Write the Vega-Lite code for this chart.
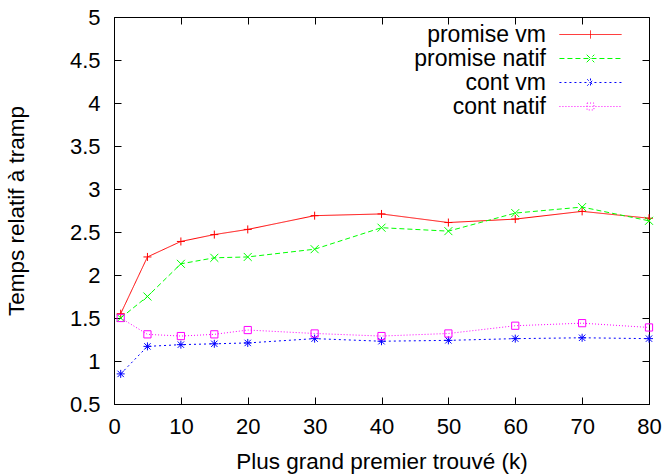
{
  "$schema": "https://vega.github.io/schema/vega-lite/v6.json",
  "width": 535,
  "height": 387,
  "autosize": "none",
  "padding": {"left": 114, "top": 17, "right": 19, "bottom": 71},
  "background": "white",
  "config": {
    "font": "Liberation Sans",
    "view": {"stroke": "black", "strokeWidth": 1},
    "axis": {
      "grid": false,
      "domainColor": "black",
      "tickColor": "black",
      "labelColor": "black",
      "titleColor": "black",
      "labelFontSize": 22,
      "titleFontSize": 22.5,
      "titleFontWeight": "normal",
      "labelFont": "Liberation Sans",
      "titleFont": "Liberation Sans",
      "tickSize": -7,
      "labelFlush": false,
      "labelOverlap": false
    }
  },
  "data": {
    "values": [
      {"k": 1, "serie": "promise vm", "t": 1.55},
      {"k": 5, "serie": "promise vm", "t": 2.21},
      {"k": 10, "serie": "promise vm", "t": 2.39},
      {"k": 15, "serie": "promise vm", "t": 2.47},
      {"k": 20, "serie": "promise vm", "t": 2.53},
      {"k": 30, "serie": "promise vm", "t": 2.69},
      {"k": 40, "serie": "promise vm", "t": 2.71},
      {"k": 50, "serie": "promise vm", "t": 2.61},
      {"k": 60, "serie": "promise vm", "t": 2.65},
      {"k": 70, "serie": "promise vm", "t": 2.74},
      {"k": 80, "serie": "promise vm", "t": 2.66},
      {"k": 1, "serie": "promise natif", "t": 1.50},
      {"k": 5, "serie": "promise natif", "t": 1.75},
      {"k": 10, "serie": "promise natif", "t": 2.13},
      {"k": 15, "serie": "promise natif", "t": 2.20},
      {"k": 20, "serie": "promise natif", "t": 2.21},
      {"k": 30, "serie": "promise natif", "t": 2.30},
      {"k": 40, "serie": "promise natif", "t": 2.55},
      {"k": 50, "serie": "promise natif", "t": 2.51},
      {"k": 60, "serie": "promise natif", "t": 2.72},
      {"k": 70, "serie": "promise natif", "t": 2.79},
      {"k": 80, "serie": "promise natif", "t": 2.63},
      {"k": 1, "serie": "cont vm", "t": 0.85},
      {"k": 5, "serie": "cont vm", "t": 1.17},
      {"k": 10, "serie": "cont vm", "t": 1.19},
      {"k": 15, "serie": "cont vm", "t": 1.20},
      {"k": 20, "serie": "cont vm", "t": 1.21},
      {"k": 30, "serie": "cont vm", "t": 1.26},
      {"k": 40, "serie": "cont vm", "t": 1.23},
      {"k": 50, "serie": "cont vm", "t": 1.24},
      {"k": 60, "serie": "cont vm", "t": 1.26},
      {"k": 70, "serie": "cont vm", "t": 1.27},
      {"k": 80, "serie": "cont vm", "t": 1.26},
      {"k": 1, "serie": "cont natif", "t": 1.50},
      {"k": 5, "serie": "cont natif", "t": 1.31},
      {"k": 10, "serie": "cont natif", "t": 1.29},
      {"k": 15, "serie": "cont natif", "t": 1.31},
      {"k": 20, "serie": "cont natif", "t": 1.36},
      {"k": 30, "serie": "cont natif", "t": 1.32},
      {"k": 40, "serie": "cont natif", "t": 1.29},
      {"k": 50, "serie": "cont natif", "t": 1.32},
      {"k": 60, "serie": "cont natif", "t": 1.41},
      {"k": 70, "serie": "cont natif", "t": 1.44},
      {"k": 80, "serie": "cont natif", "t": 1.39}
    ]
  },
  "layer": [
    {
      "mark": {"type": "line", "strokeWidth": 1},
      "encoding": {
        "x": {
          "field": "k", "type": "quantitative",
          "scale": {"domain": [0, 80], "nice": false, "zero": false},
          "axis": {
            "values": [0, 10, 20, 30, 40, 50, 60, 70, 80],
            "title": "Plus grand premier trouvé (k)",
            "labelPadding": 19,
            "titlePadding": 13
          }
        },
        "y": {
          "field": "t", "type": "quantitative",
          "scale": {"domain": [0.5, 5], "nice": false, "zero": false},
          "axis": {
            "values": [0.5, 1, 1.5, 2, 2.5, 3, 3.5, 4, 4.5, 5],
            "format": "~g",
            "title": "Temps relatif à tramp",
            "labelPadding": 21,
            "titlePadding": 41
          }
        },
        "color": {
          "field": "serie", "type": "nominal",
          "scale": {
            "domain": ["promise vm", "promise natif", "cont vm", "cont natif"],
            "range": ["#ff0000", "#00ff00", "#0000ff", "#ff00ff"]
          },
          "legend": {
            "orient": "none",
            "legendX": 464.5,
            "legendY": 5.5,
            "title": null,
            "padding": 0,
            "labelFontSize": 23,
            "labelFont": "Liberation Sans",
            "labelColor": "black",
            "labelAlign": "right",
            "labelOffset": -56.5,
            "labelLimit": 400,
            "symbolSize": 529,
            "symbolStrokeWidth": 1,
            "rowPadding": -4.6,
            "encode": {
              "symbols": {
                "update": {
                  "shape": {"signal": "datum.value == 'promise vm' ? 'M-2.7,0H2.7M0,-0.35V0.35' : datum.value == 'promise natif' ? 'M-2.7,0H2.7M-0.33,-0.33L0.33,0.33M-0.33,0.33L0.33,-0.33' : datum.value == 'cont vm' ? 'M-2.7,0H2.7M0,-0.35V0.35M-0.28,-0.28L0.28,0.28M-0.28,0.28L0.28,-0.28' : 'M-2.7,0H2.7M-0.3,-0.3H0.3V0.3H-0.3Z'"},
                  "fill": {"value": "transparent"}
                }
              }
            }
          }
        },
        "strokeDash": {
          "field": "serie", "type": "nominal",
          "scale": {
            "domain": ["promise vm", "promise natif", "cont vm", "cont natif"],
            "range": [[1, 0], [5, 3], [2, 3], [1, 2]]
          }
        }
      }
    },
    {
      "transform": [{"filter": "datum.serie == 'promise vm'"}],
      "mark": {"type": "point", "filled": false, "strokeWidth": 1, "size": 64, "opacity": 1, "shape": "M-1,0H1M0,-1V1"},
      "encoding": {
        "x": {
          "field": "k", "type": "quantitative",
          "axis": {
            "orient": "top",
            "values": [0, 10, 20, 30, 40, 50, 60, 70, 80],
            "labels": false,
            "domain": false,
            "title": null
          }
        },
        "y": {
          "field": "t", "type": "quantitative",
          "axis": {
            "orient": "right",
            "values": [0.5, 1, 1.5, 2, 2.5, 3, 3.5, 4, 4.5, 5],
            "labels": false,
            "domain": false,
            "title": null
          }
        },
        "color": {"field": "serie", "type": "nominal"}
      }
    },
    {
      "transform": [{"filter": "datum.serie == 'promise natif'"}],
      "mark": {"type": "point", "filled": false, "strokeWidth": 1, "size": 64, "opacity": 1, "shape": "M-1,-1L1,1M-1,1L1,-1"},
      "encoding": {
        "x": {"field": "k", "type": "quantitative", "axis": null},
        "y": {"field": "t", "type": "quantitative", "axis": null},
        "color": {"field": "serie", "type": "nominal"}
      }
    },
    {
      "transform": [{"filter": "datum.serie == 'cont vm'"}],
      "mark": {"type": "point", "filled": false, "strokeWidth": 1, "size": 64, "opacity": 1, "shape": "M-1,0H1M0,-1V1M-0.8,-0.8L0.8,0.8M-0.8,0.8L0.8,-0.8"},
      "encoding": {
        "x": {"field": "k", "type": "quantitative", "axis": null},
        "y": {"field": "t", "type": "quantitative", "axis": null},
        "color": {"field": "serie", "type": "nominal"}
      }
    },
    {
      "transform": [{"filter": "datum.serie == 'cont natif'"}],
      "mark": {"type": "point", "filled": false, "strokeWidth": 1, "size": 64, "opacity": 1, "shape": "M-0.9,-0.9H0.9V0.9H-0.9Z"},
      "encoding": {
        "x": {"field": "k", "type": "quantitative", "axis": null},
        "y": {"field": "t", "type": "quantitative", "axis": null},
        "color": {"field": "serie", "type": "nominal"}
      }
    }
  ],
  "resolve": {"axis": {"x": "independent", "y": "independent"}}
}
